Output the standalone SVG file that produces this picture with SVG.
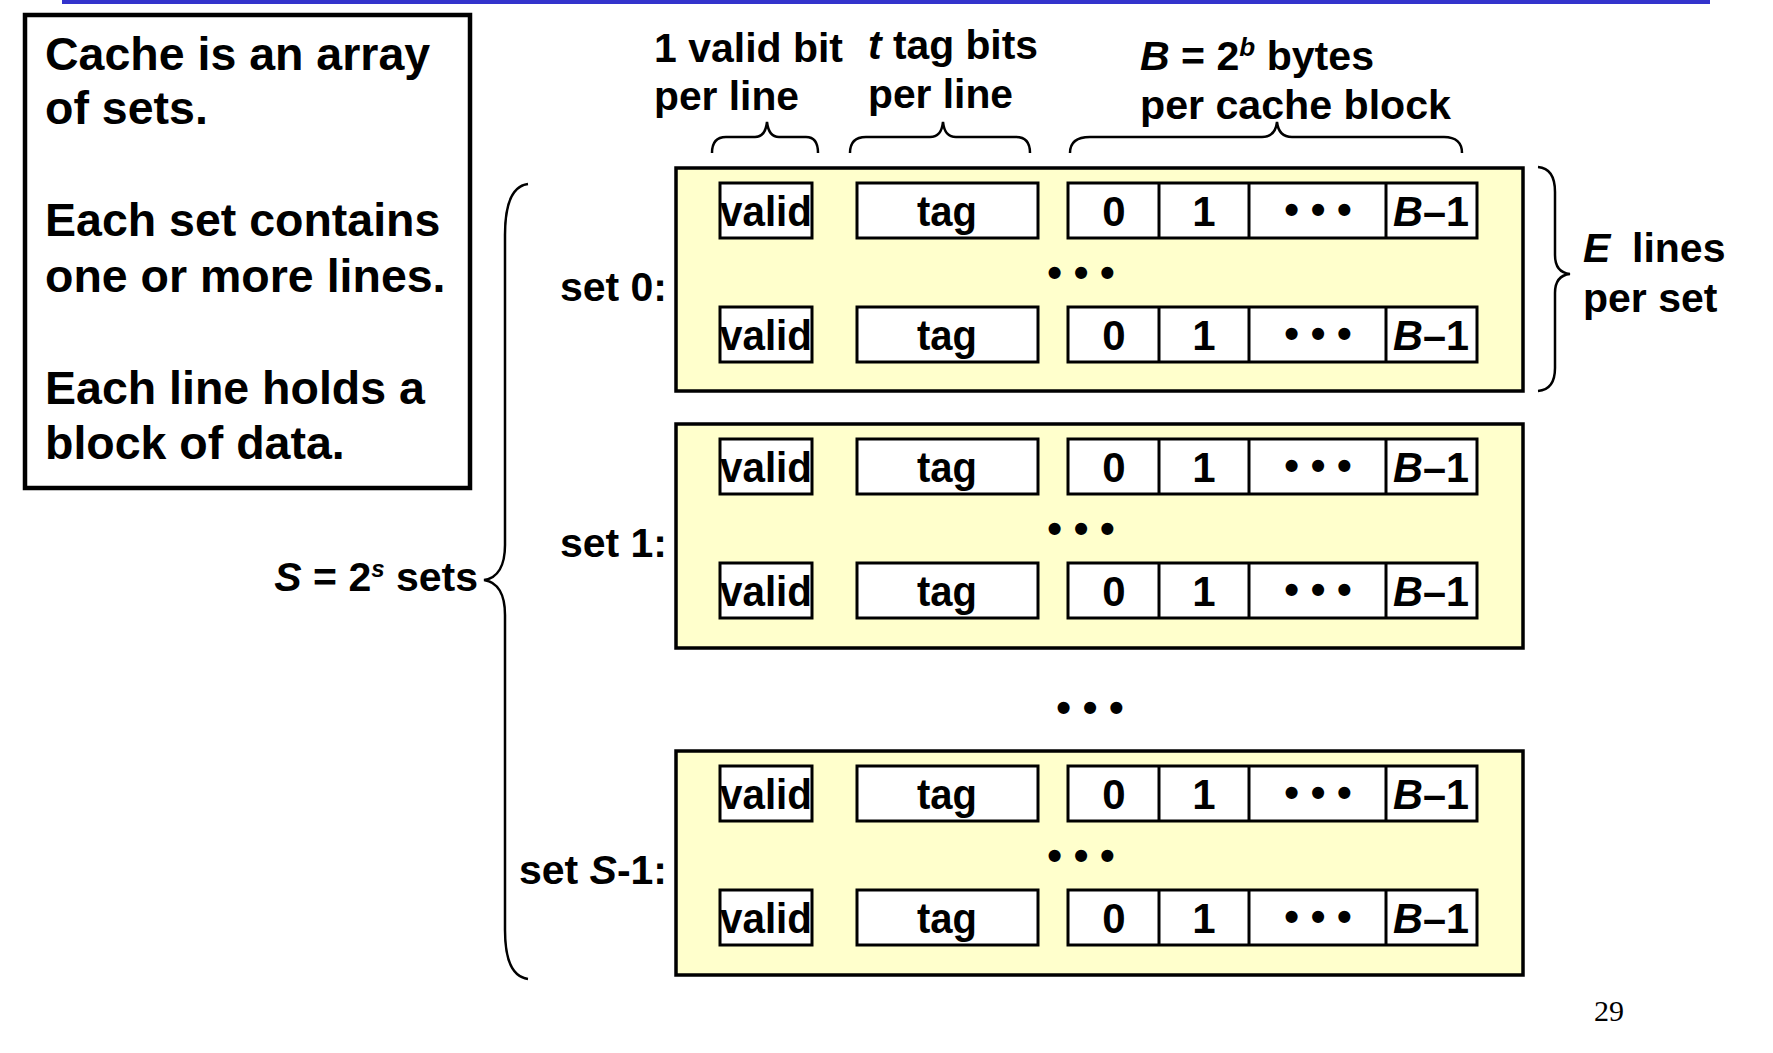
<svg xmlns="http://www.w3.org/2000/svg" width="1773" height="1053" viewBox="0 0 1773 1053">
<style>
.t{font-family:"Liberation Sans",Arial,sans-serif;font-weight:bold;fill:#000}
.big{font-size:46.5px}
.hd{font-size:41px}
.lbl{font-size:41px}
.cell{font-size:42px;text-anchor:middle}
.set{fill:#FFFFCC;stroke:#000;stroke-width:3.5}
.box{fill:#fff;stroke:#000;stroke-width:3}
.br{fill:none;stroke:#000;stroke-width:2.5}
.dots{font-size:42px;text-anchor:middle}
</style>
<defs>
<g id="line">
<rect class="box" x="720" y="0" width="92" height="55"/>
<rect class="box" x="857" y="0" width="181" height="55"/>
<rect class="box" x="1068" y="0" width="409" height="55"/>
<line x1="1159" y1="0" x2="1159" y2="55" stroke="#000" stroke-width="3"/>
<line x1="1249" y1="0" x2="1249" y2="55" stroke="#000" stroke-width="3"/>
<line x1="1386" y1="0" x2="1386" y2="55" stroke="#000" stroke-width="3"/>
<text class="t cell" x="766" y="43" textLength="92" lengthAdjust="spacingAndGlyphs">valid</text>
<text class="t cell" x="947" y="43" textLength="60" lengthAdjust="spacingAndGlyphs">tag</text>
<text class="t cell" x="1114" y="43">0</text>
<text class="t cell" x="1204" y="43">1</text>
<text class="t cell" x="1318" y="41">• • •</text>
<text class="t cell" x="1431" y="43" textLength="76" lengthAdjust="spacingAndGlyphs"><tspan font-style="italic">B</tspan>–1</text>
</g>
</defs>
<rect x="62" y="0" width="1648" height="4" fill="#3333CC"/>
<g id="info">
<rect x="25" y="15" width="445" height="473" fill="#fff" stroke="#000" stroke-width="4.5"/>
<text class="t big" x="45" y="70">Cache is an array</text>
<text class="t big" x="45" y="124">of sets.</text>
<text class="t big" x="45" y="236">Each set contains</text>
<text class="t big" x="45" y="292">one or more lines.</text>
<text class="t big" x="45" y="404">Each line holds a</text>
<text class="t big" x="45" y="459">block of data.</text>
</g>
<g id="headers">
<text class="t hd" x="654" y="62" textLength="189" lengthAdjust="spacingAndGlyphs">1 valid bit</text>
<text class="t hd" x="654" y="110" textLength="145" lengthAdjust="spacingAndGlyphs">per line</text>
<text class="t hd" x="868" y="59" textLength="170" lengthAdjust="spacingAndGlyphs"><tspan font-style="italic">t</tspan> tag bits</text>
<text class="t hd" x="868" y="108" textLength="145" lengthAdjust="spacingAndGlyphs">per line</text>
<text class="t hd" x="1140" y="70" textLength="234" lengthAdjust="spacingAndGlyphs"><tspan font-style="italic">B</tspan> = 2<tspan font-style="italic" font-size="26" dy="-14">b</tspan><tspan dy="14"> bytes</tspan></text>
<text class="t hd" x="1140" y="119" textLength="311" lengthAdjust="spacingAndGlyphs">per cache block</text>
</g>
<g id="set0">
<rect class="set" x="676" y="168" width="847" height="223"/>
<use href="#line" y="183"/>
<use href="#line" y="307"/>
<text class="t dots" x="1081" y="287">• • •</text>
<text class="t lbl" x="667" y="301" text-anchor="end">set 0:</text>
</g>
<g id="set1">
<rect class="set" x="676" y="424" width="847" height="224"/>
<use href="#line" y="439"/>
<use href="#line" y="563"/>
<text class="t dots" x="1081" y="543">• • •</text>
<text class="t lbl" x="667" y="557" text-anchor="end">set 1:</text>
</g>
<text class="t dots" x="1090" y="722">• • •</text>
<g id="setS1">
<rect class="set" x="676" y="751" width="847" height="224"/>
<use href="#line" y="766"/>
<use href="#line" y="890"/>
<text class="t dots" x="1081" y="870">• • •</text>
<text class="t lbl" x="667" y="884" text-anchor="end">set <tspan font-style="italic">S</tspan>-1:</text>
</g>
<g id="labels">
<text class="t lbl" x="478" y="591" text-anchor="end"><tspan font-style="italic">S</tspan> = 2<tspan font-style="italic" font-size="24" dy="-14">s</tspan><tspan dy="14"> sets</tspan></text>
<text class="t lbl" x="1583" y="262"><tspan font-style="italic">E</tspan><tspan x="1632">lines</tspan></text>
<text class="t lbl" x="1583" y="312">per set</text>
<text x="1594" y="1021" font-family="'Liberation Serif',serif" font-size="30">29</text>
</g>
<g id="connectors">
<path class="br" d="M528,184 C512,186 505,205 505,235 L505,545 C505,565 498,578 484,580 C498,582 505,595 505,615 L505,930 C505,960 512,977 528,979"/>
<path class="br" d="M1538,167 C1550,168 1555,178 1555,192 L1555,255 C1555,266 1560,273 1570,274 C1560,275 1555,282 1555,293 L1555,368 C1555,382 1550,390 1538,391"/>
<path class="br" d="M712,153 C712,143 716,137 726,137 L755,137 C763,137 766,131 767,122 C768,131 771,137 779,137 L806,137 C815,137 818,143 818,153"/>
<path class="br" d="M850,153 C850,143 855,137 866,137 L930,137 C939,137 942,131 943,122 C944,131 947,137 956,137 L1016,137 C1026,137 1030,143 1030,153"/>
<path class="br" d="M1070,153 C1070,143 1076,137 1090,137 L1262,137 C1272,137 1276,131 1277,122 C1278,131 1282,137 1292,137 L1444,137 C1456,137 1462,143 1462,153"/>
</g>
</svg>
